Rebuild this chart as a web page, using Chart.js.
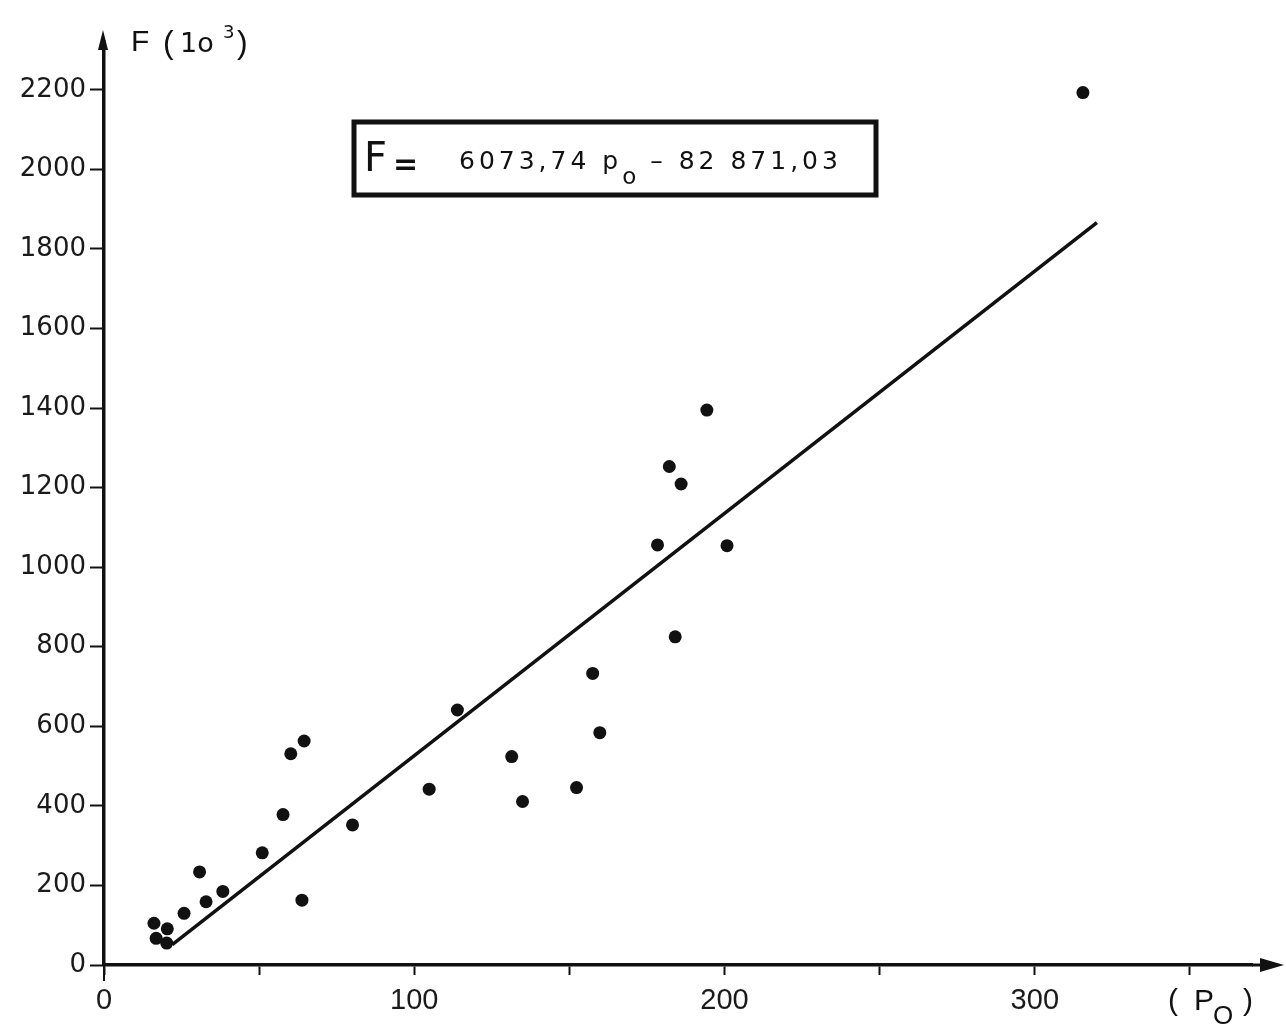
<!DOCTYPE html>
<html><head><meta charset="utf-8">
<script src="https://cdn.jsdelivr.net/npm/chart.js@4"></script>
<style>html,body{margin:0;padding:0;background:#fff}canvas{display:block}</style>
</head><body>
<canvas id="c" width="1286" height="1028"></canvas>
<script>
// Observed points: p_o (x) and F in 10^3 (y)
const poValues = [315.5, 194.3, 182.2, 186.0, 178.4, 200.8, 184.1, 157.5, 159.8, 113.9,
                  131.4, 104.8, 134.9, 152.3, 80.1, 64.5, 60.2, 57.7, 63.8, 51.0,
                  30.8, 38.3, 32.9, 25.8, 16.1, 20.4, 16.8, 20.2];
const fValues  = [2193, 1395, 1253, 1209, 1056, 1054, 825, 733, 584, 641,
                  524, 442, 411, 446, 352, 563, 531, 378, 163, 282,
                  234, 185, 159, 130, 105, 91, 67, 55];
// Regression line end points
const fitPo = [22, 320];
const fitF  = [51, 1866];
// Axis ranges and tick steps
const xRange = [0, 370];
const yRange = [0, 2300];
const xTickStep = 50;
const xLabelStep = 100;
const yTickStep = 200;
const equationParts = ['F', '=', '6073,74 p', 'o', ' \u2013 82 871,03'];
const yTitleParts = ['F', '(', '1o', '3', ')'];
const xTitleParts = ['(', 'P', 'O', ')'];

const pointData = poValues.map((p, i) => ({x: p, y: fValues[i]}));
const lineData = fitPo.map((p, i) => ({x: p, y: fitF[i]}));

const ink = '#111';

const decor = {
  id: 'decor',
  afterDraw(chart) {
    const ctx = chart.ctx;
    const ca = chart.chartArea;
    const x0 = chart.scales.x.getPixelForValue(0);
    const y0 = chart.scales.y.getPixelForValue(0);
    ctx.save();
    ctx.strokeStyle = ink; ctx.fillStyle = ink;
    // y axis extension + arrow
    ctx.lineWidth = 3;
    ctx.beginPath(); ctx.moveTo(x0, ca.top); ctx.lineTo(x0, 40); ctx.stroke();
    ctx.beginPath(); ctx.moveTo(x0 - 1, 30); ctx.lineTo(x0 - 6, 50); ctx.lineTo(x0 + 4, 50); ctx.closePath(); ctx.fill();
    // y axis slight extension below x axis
    ctx.lineWidth = 2;
    ctx.beginPath(); ctx.moveTo(x0, y0); ctx.lineTo(x0, y0 + 16); ctx.stroke();
    // x axis extension + arrow
    ctx.lineWidth = 3;
    ctx.beginPath(); ctx.moveTo(ca.right, y0); ctx.lineTo(1270, y0); ctx.stroke();
    ctx.beginPath(); ctx.moveTo(1284, y0); ctx.lineTo(1260, y0 - 7); ctx.lineTo(1260, y0 + 7); ctx.closePath(); ctx.fill();

    ctx.textBaseline = 'alphabetic';
    ctx.textAlign = 'left';
    // y axis title
    ctx.font = '30px "Liberation Sans"';
    ctx.fillText(yTitleParts[0], 131, 51);
    ctx.font = '32px "Liberation Sans"';
    ctx.fillText(yTitleParts[1], 163, 53);
    ctx.font = '27px "DejaVu Sans"';
    ctx.fillText(yTitleParts[2], 180, 52);
    ctx.font = '18px "DejaVu Sans"';
    ctx.fillText(yTitleParts[3], 223, 38);
    ctx.font = '32px "Liberation Sans"';
    ctx.fillText(yTitleParts[4], 237, 53);

    // x axis title
    ctx.font = '30px "Liberation Sans"';
    ctx.fillText(xTitleParts[0], 1168, 1010);
    ctx.fillText(xTitleParts[1], 1194, 1010);
    ctx.font = '26px "Liberation Sans"';
    ctx.fillText(xTitleParts[2], 1213, 1024);
    ctx.font = '30px "Liberation Sans"';
    ctx.fillText(xTitleParts[3], 1243, 1010);

    // Equation box
    ctx.lineWidth = 5;
    ctx.strokeRect(354, 122, 522, 73);
    ctx.font = '40px "DejaVu Sans"';
    ctx.fillText(equationParts[0], 364, 171);
    ctx.font = 'bold 30px "DejaVu Sans"';
    ctx.fillText(equationParts[1], 393, 174);
    ctx.font = '25px "DejaVu Sans"';
    ctx.letterSpacing = '4px';
    let xx = 459;
    ctx.fillText(equationParts[2], xx, 169);
    xx += ctx.measureText(equationParts[2]).width;
    ctx.font = '23px "DejaVu Sans"';
    ctx.letterSpacing = '0px';
    ctx.fillText(equationParts[3], xx, 184);
    xx += ctx.measureText(equationParts[3]).width + 2;
    ctx.font = '25px "DejaVu Sans"';
    ctx.letterSpacing = '4px';
    ctx.fillText(equationParts[4], xx, 169);
    ctx.letterSpacing = '0px';
    ctx.restore();
  }
};

new Chart(document.getElementById('c'), {
  type: 'scatter',
  data: {
    datasets: [
      {
        label: 'points',
        data: pointData,
        backgroundColor: ink,
        borderColor: ink,
        pointRadius: 6.5,
        pointBorderWidth: 0
      },
      {
        label: 'fit',
        type: 'line',
        data: lineData,
        showLine: true,
        borderColor: ink,
        borderWidth: 3.5,
        pointRadius: 0,
        fill: false
      }
    ]
  },
  options: {
    responsive: false,
    animation: false,
    layout: {padding: {top: 50, right: 34, left: 0, bottom: 0}},
    plugins: {legend: {display: false}, tooltip: {enabled: false}},
    scales: {
      x: {
        type: 'linear',
        min: xRange[0], max: xRange[1],
        afterFit: s => { s.height = 63; },
        ticks: {
          stepSize: xTickStep,
          autoSkip: false,
          maxRotation: 0,
          includeBounds: false,
          callback: v => (v % xLabelStep === 0 ? String(v) : ''),
          font: {family: 'Liberation Sans', size: 29},
          color: '#1a1a1a',
          padding: 9
        },
        grid: {drawOnChartArea: false, tickLength: 10, tickWidth: 2, tickColor: ink},
        border: {color: ink, width: 3.5}
      },
      y: {
        min: yRange[0], max: yRange[1],
        afterFit: s => { s.width = 104; },
        ticks: {
          stepSize: yTickStep,
          includeBounds: false,
          callback: v => String(v),
          font: {family: 'DejaVu Sans', size: 26},
          color: '#1a1a1a',
          padding: 4
        },
        grid: {drawOnChartArea: false, tickLength: 14, tickWidth: 2, tickColor: ink},
        border: {color: ink, width: 3.5}
      }
    }
  },
  plugins: [decor]
});
</script>
</body></html>
